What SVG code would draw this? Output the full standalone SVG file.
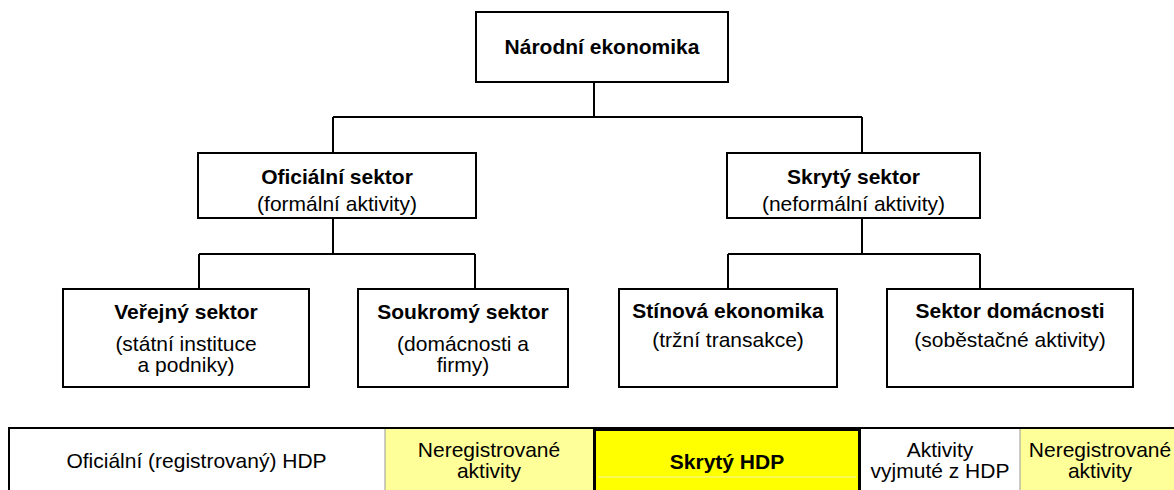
<svg xmlns="http://www.w3.org/2000/svg" width="1174" height="490" viewBox="0 0 1174 490">
<style>
.box{fill:#fff;stroke:#000;stroke-width:2}
.ln{fill:none;stroke:#000;stroke-width:2}
text{font-family:"Liberation Sans",Arial,sans-serif;font-size:21px;fill:#000;text-anchor:middle}
.b{font-weight:bold}
</style>
<rect width="1174" height="490" fill="#fff"/>
<g id="connectors">
<path class="ln" d="M594,82V117M333,117H862M333,117V153M862,117V153"/>
<path class="ln" d="M333,218V254M199,254H475M199,254V289M475,254V289"/>
<path class="ln" d="M862,218V254M728,254H980M728,254V289M980,254V289"/>
</g>
<g id="narodni">
<rect class="box" x="476" y="12" width="252" height="70"/>
<text class="b" x="602" y="54">Národní ekonomika</text>
</g>
<g id="oficialni">
<rect class="box" x="198" y="153" width="278" height="65"/>
<text class="b" x="337" y="184">Oficiální sektor</text>
<text x="337" y="211">(formální aktivity)</text>
</g>
<g id="skryty">
<rect class="box" x="727" y="153" width="253" height="65"/>
<text class="b" x="853.5" y="184">Skrytý sektor</text>
<text x="853.5" y="211">(neformální aktivity)</text>
</g>
<g id="verejny">
<rect class="box" x="63" y="289" width="246" height="98"/>
<text class="b" x="186" y="319">Veřejný sektor</text>
<text x="186" y="351">(státní instituce</text>
<text x="186" y="372">a podniky)</text>
</g>
<g id="soukromy">
<rect class="box" x="358" y="289" width="210" height="98"/>
<text class="b" x="463" y="319">Soukromý sektor</text>
<text x="463" y="351">(domácnosti a</text>
<text x="463" y="372">firmy)</text>
</g>
<g id="stinova">
<rect class="box" x="619" y="289" width="218" height="98"/>
<text class="b" x="728" y="318">Stínová ekonomika</text>
<text x="728" y="347">(tržní transakce)</text>
</g>
<g id="domacnosti">
<rect class="box" x="887" y="289" width="246" height="98"/>
<text class="b" x="1010" y="318">Sektor domácnosti</text>
<text x="1010" y="347">(soběstačné aktivity)</text>
</g>
<g id="bar">
<rect x="8" y="428" width="377" height="64" fill="#fff"/>
<rect x="385" y="428" width="208" height="64" fill="#ffff99"/>
<rect x="860" y="428" width="160" height="64" fill="#fff"/>
<rect x="1020" y="428" width="156" height="64" fill="#ffff99"/>
<line x1="385" y1="428" x2="385" y2="492" stroke="#999" stroke-width="1"/>
<line x1="1020" y1="428" x2="1020" y2="492" stroke="#999" stroke-width="1"/>
<path class="ln" d="M9,492V428H1176"/>
<rect x="594.5" y="429.5" width="265" height="64" fill="#ffff00" stroke="#000" stroke-width="3"/>
<line x1="598" y1="477" x2="856" y2="477" stroke="#f4f4a8" stroke-width="1"/>
<text x="196.5" y="468">Oficiální (registrovaný) HDP</text>
<text x="489" y="457">Neregistrované</text>
<text x="489" y="478">aktivity</text>
<text class="b" x="727" y="469">Skrytý HDP</text>
<text x="940" y="457">Aktivity</text>
<text x="940" y="478">vyjmuté z HDP</text>
<text x="1100" y="457">Neregistrované</text>
<text x="1100" y="478">aktivity</text>
</g>
</svg>
